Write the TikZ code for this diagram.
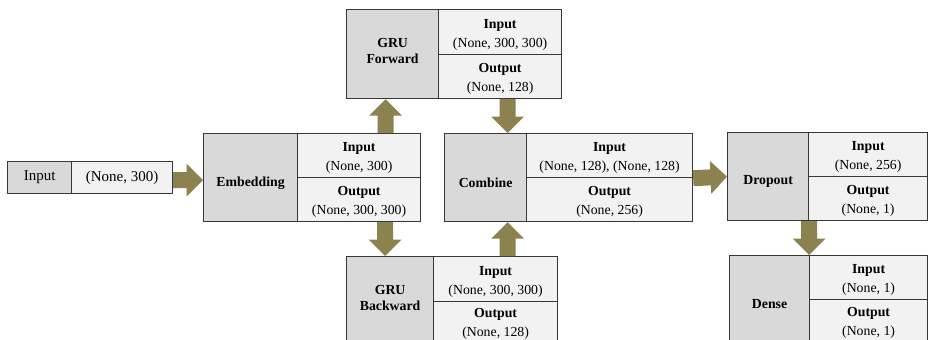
\documentclass[tikz,border=0pt]{standalone}
\usepackage{fontspec}
\setmainfont{Liberation Serif}
\usetikzlibrary{calc}

\definecolor{namefill}{RGB}{217,217,217}
\definecolor{infofill}{RGB}{242,242,242}
\definecolor{framecol}{RGB}{55,55,55}
\definecolor{arrowfill}{RGB}{140,130,80}

\tikzset{
  box/.style={draw=framecol, line width=1.2pt, anchor=north west, inner sep=0pt,
    font=\fontsize{13.8}{19}\selectfont},
  namebox/.style={box, fill=namefill, font=\bfseries\fontsize{13.8}{16}\selectfont},
  plainname/.style={box, fill=namefill, font=\fontsize{15}{18}\selectfont},
  infobox/.style={box, fill=infofill},
  plaininfo/.style={box, fill=infofill, font=\fontsize{15}{18}\selectfont},
}

% text lowered by #1 without changing its reported size
\newcommand\nudge[2]{\raisebox{#1}[\height][\depth]{#2}}
% two centred lines, moved by #1
\newcommand\twolines[3]{\nudge{#1}{\begin{tabular}{@{}c@{}}#2\\#3\end{tabular}}}
% input / output description of a layer
\newcommand\shape[2]{\twolines{-2pt}{\textbf{#1}}{#2}}
\newcommand\shapeup[2]{\twolines{1pt}{\textbf{#1}}{#2}}

% block arrow from #1 to #2: shaft 16pt wide, head 33pt wide and 16.5pt long
\newcommand\fatarrow[2]{%
  \coordinate (fa-h) at ($(#2)!16.5pt!(#1)$);
  \fill[arrowfill] ($(#1)!8pt!90:(#2)$) -- ($(fa-h)!8pt!90:(#2)$)
    -- ($(fa-h)!16.5pt!90:(#2)$) -- (#2) -- ($(fa-h)!16.5pt!-90:(#2)$)
    -- ($(fa-h)!8pt!-90:(#2)$) -- ($(#1)!8pt!-90:(#2)$) -- cycle;}

\begin{document}
\begin{tikzpicture}[x=1pt, y=-1pt]
\useasboundingbox (0,0) rectangle (929,340);
\clip (0,0) rectangle (929,340);

% input layer
\node[plainname, minimum width=64pt, minimum height=32pt] (inname) at (7,161) {Input};
\node[plaininfo, minimum width=101pt, minimum height=32pt] (inval) at (71,161) {(None, 300)};

% embedding
\node[namebox, minimum width=94pt, minimum height=88pt] (embname) at (203,133) {\nudge{-5.5pt}{Embedding}};
\node[infobox, minimum width=123pt, minimum height=44pt] (embin) at (297,133) {\shape{Input}{(None, 300)}};
\node[infobox, minimum width=123pt, minimum height=44pt] (embout) at (297,177) {\shape{Output}{(None, 300, 300)}};

% forward GRU
\node[namebox, minimum width=92pt, minimum height=89pt] (fwdname) at (346,9) {\twolines{1.7pt}{GRU}{Forward}};
\node[infobox, minimum width=123pt, minimum height=45pt] (fwdin) at (438,9) {\shape{Input}{(None, 300, 300)}};
\node[infobox, minimum width=123pt, minimum height=44pt] (fwdout) at (438,54) {\shape{Output}{(None, 128)}};

% backward GRU
\node[namebox, minimum width=87pt, minimum height=90pt] (bwdname) at (346,256) {\twolines{2pt}{GRU}{Backward}};
\node[infobox, minimum width=124pt, minimum height=45pt] (bwdin) at (433,256) {\shape{Input}{(None, 300, 300)}};
\node[infobox, minimum width=124pt, minimum height=45pt] (bwdout) at (433,301) {\shapeup{Output}{(None, 128)}};

% combine
\node[namebox, minimum width=82pt, minimum height=88pt] (combname) at (444,133) {\nudge{-4.7pt}{Combine}};
\node[infobox, minimum width=166pt, minimum height=44pt] (combin) at (526,133) {\shape{Input}{(None, 128), (None, 128)}};
\node[infobox, minimum width=166pt, minimum height=44pt] (combout) at (526,177) {\shape{Output}{(None, 256)}};

% dropout
\node[namebox, minimum width=81pt, minimum height=88pt] (dropname) at (727,132) {\nudge{-5pt}{Dropout}};
\node[infobox, minimum width=119pt, minimum height=44pt] (dropin) at (808,132) {\shape{Input}{(None, 256)}};
\node[infobox, minimum width=119pt, minimum height=44pt] (dropout) at (808,176) {\shape{Output}{(None, 1)}};

% dense
\node[namebox, minimum width=80pt, minimum height=91pt] (densename) at (729,255) {\nudge{-3pt}{Dense}};
\node[infobox, minimum width=118pt, minimum height=44pt] (densein) at (809,255) {\shape{Input}{(None, 1)}};
\node[infobox, minimum width=118pt, minimum height=47pt] (denseout) at (809,299) {\shapeup{Output}{(None, 1)}};

% connector end points
\coordinate (intap) at ([yshift=-2.5pt]inval.east);
\coordinate (embhead) at (intap -| embname.west);
\coordinate (fwdfoot) at ([xshift=-7pt]fwdname.south);
\coordinate (embtop) at (fwdfoot |- embin.north);
\coordinate (bwdhead) at ([xshift=-5pt]bwdname.north);
\coordinate (embfoot) at (bwdhead |- embout.south);
\coordinate (fwdtap) at ([xshift=7.5pt]fwdout.south);
\coordinate (combtop) at (fwdtap |- combname.north);
\coordinate (combfoot) at (combtop |- combname.south);
\coordinate (bwdtap) at (combtop |- bwdin.north);
\coordinate (dropfoot) at (dropname.south east);
\coordinate (densetop) at (dropfoot |- densename.north);

% connectors
\fatarrow{intap}{embhead}
\fatarrow{embtop}{fwdfoot}
\fatarrow{embfoot}{bwdhead}
\fatarrow{fwdtap}{combtop}
\fatarrow{bwdtap}{combfoot}
\fatarrow{combin.south east}{dropname.west}
\fatarrow{dropfoot}{densetop}
\end{tikzpicture}
\end{document}
